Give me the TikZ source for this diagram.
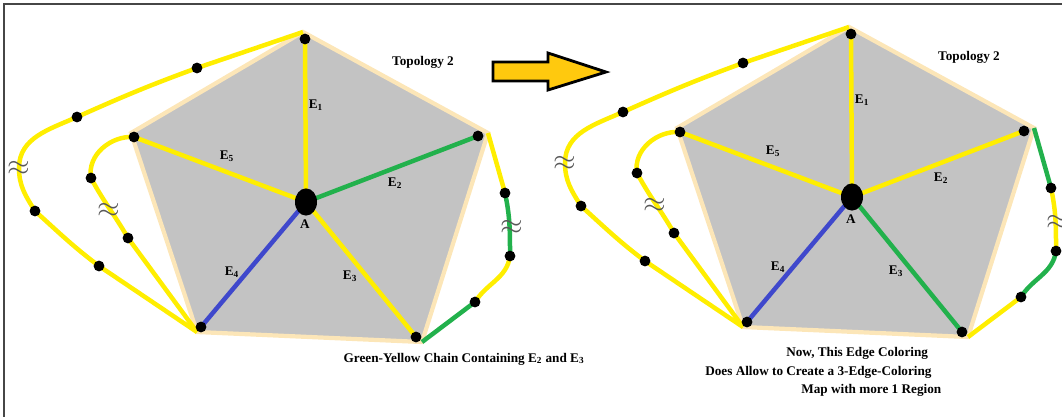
\documentclass[tikz,border=0pt]{standalone}
\usepackage{fontspec}
\setmainfont{Liberation Serif}
\usetikzlibrary{shapes.geometric}
\definecolor{chainyellow}{RGB}{255,238,0}
\definecolor{chaingreen}{RGB}{34,177,76}
\definecolor{chainblue}{RGB}{63,72,204}
\definecolor{facegray}{RGB}{195,195,195}
\definecolor{rimbeige}{RGB}{252,230,184}
\definecolor{arrowgold}{RGB}{255,201,14}
\definecolor{framegray}{RGB}{70,70,70}

\tikzset{
  face/.style={fill=facegray, draw=rimbeige, line width=3pt, line join=miter},
  spoke/.style={line width=3.2pt},
  dot/.style={circle, fill=black, inner sep=0pt, minimum size=2.7mm},
  hub/.style={ellipse, fill=black, inner sep=0pt, minimum width=5.5mm, minimum height=6.8mm},
  lbl/.style={font=\fontsize{9.4}{12}\selectfont\bfseries, inner sep=0pt},
  gap/.style={font=\huge, text=gray!70!black, inner sep=0pt}
}

% one wheel: #1 = E2, #2 = E3, #3--#6 = pieces of the right-hand chain
\newcommand{\wheel}[6]{
  % pentagon corners
  \coordinate (pT) at (303,32);
  \coordinate (pR) at (488,133);
  \coordinate (pBR) at (422,342);
  \coordinate (pBL) at (197,332);
  \coordinate (pUL) at (131,133);
  % vertices
  \coordinate (T) at (305,39);
  \coordinate (R) at (478,136);
  \coordinate (BR) at (416,337);
  \coordinate (BL) at (201,327);
  \coordinate (UL) at (134,137);
  \coordinate (A) at (306,202);
  % points on the chains
  \coordinate (o1) at (197,68);
  \coordinate (o2) at (77,117);
  \coordinate (o3) at (19,168);
  \coordinate (o4) at (35,211);
  \coordinate (o5) at (99,266);
  \coordinate (i1) at (91,178);
  \coordinate (i2) at (109,210);
  \coordinate (i3) at (128,238);
  \coordinate (r1) at (505,193);
  \coordinate (r2) at (512,227);
  \coordinate (r3) at (510,256);
  \coordinate (r4) at (475,302);

  \filldraw[face] (pT) -- (pR) -- (pBR) -- (pBL) -- (pUL) -- cycle;

  % spokes
  \draw[spoke, chainyellow] (A) -- (T);
  \draw[spoke, #1] (A) -- (R);
  \draw[spoke, #2] (A) -- (BR);
  \draw[spoke, chainblue] (A) -- (BL);
  \draw[spoke, chainyellow] (A) -- (UL);

  % chains round the outside
  \draw[spoke, chainyellow] (pT) -- (o1) to[out=200,in=24] (o2)
    to[out=204,in=90] (o3) to[out=-90,in=122] (o4)
    to[out=-42,in=143] (o5) -- (pBL);
  \draw[spoke, chainyellow] (UL) to[out=176,in=100] (i1)
    to[out=-62,in=120] (i3) -- (pBL);
  \draw[spoke, #3] (pR) -- (r1);
  \draw[spoke, #4] (r1) to[out=-78,in=90] (r3);
  \draw[spoke, #5] (r3) to[out=-98,in=58] (r4);
  \draw[spoke, #6] (r4) -- (pBR);

  % dots
  \foreach \v in {T,R,BR,BL,UL,o1,o2,o4,o5,i1,i3,r1,r3,r4}
    \node[dot] (d\v) at (\v) {};
  \node[hub] (hubA) at (A) {};
  \foreach \g in {o3,i2,r2}
    \node[gap] (g\g) at (\g) {$\approx$};

  % labels
  \node[lbl] (labA) at (305,224) {A};
  \node[lbl] (lab1) at (316,105) {E\textsubscript{1}};
  \node[lbl] (lab2) at (395,183) {E\textsubscript{2}};
  \node[lbl] (lab3) at (350,276) {E\textsubscript{3}};
  \node[lbl] (lab4) at (232,272) {E\textsubscript{4}};
  \node[lbl] (lab5) at (227,156) {E\textsubscript{5}};
  \node[lbl] (topo) at (423,62) {Topology 2};
}

\begin{document}
\begin{tikzpicture}[x=0.025cm, y=-0.025cm]
  \useasboundingbox (0,0) rectangle (1062,416);
  \draw[framegray, line width=1pt] (4,420) -- (4,4) -- (1066,4);

  \begin{scope}[name prefix=L-]
    \wheel{chaingreen}{chainyellow}{chainyellow}{chaingreen}{chainyellow}{chaingreen}
    \node[lbl] (chain) at (464,359) {Green-Yellow Chain Containing E\textsubscript{2} and E\textsubscript{3}};
  \end{scope}

  % arrow between the two states
  \filldraw[fill=arrowgold, draw=black, line width=2pt, line join=miter]
    (493,62) -- (548,62) -- (548,53) -- (606,72) -- (548,90) -- (548,81) -- (493,81) -- cycle;

  \begin{scope}[name prefix=R-, shift={(546,-5)}]
    \wheel{chainyellow}{chaingreen}{chaingreen}{chainyellow}{chaingreen}{chainyellow}
  \end{scope}

  \node[lbl, anchor=west] (note1) at (786,353) {Now, This Edge Coloring};
  \node[lbl, anchor=west] (note2) at (705,372) {Does Allow to Create a 3-Edge-Coloring};
  \node[lbl, anchor=west] (note3) at (801,390) {Map with more 1 Region};
\end{tikzpicture}
\end{document}
